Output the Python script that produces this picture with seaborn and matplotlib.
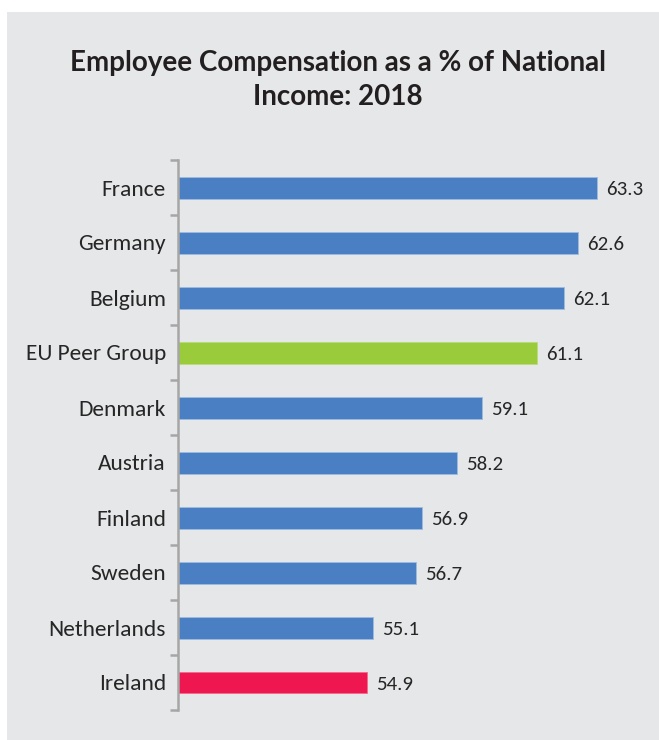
import matplotlib
matplotlib.use("Agg")
import matplotlib.pyplot as plt
import seaborn as sns
import pandas as pd
import numpy as np
from matplotlib.patches import Rectangle

countries = ["France", "Germany", "Belgium", "EU Peer Group", "Denmark",
             "Austria", "Finland", "Sweden", "Netherlands", "Ireland"]
values = [63.3, 62.6, 62.1, 61.1, 59.1, 58.2, 56.9, 56.7, 55.1, 54.9]
title = "Employee Compensation as a % of National\nIncome: 2018"

BLUE = "#4a80c3"
GREEN = "#9acb3a"
RED = "#ee174f"
BG = "#e6e7e9"
palette = {c: BLUE for c in countries}
palette["EU Peer Group"] = GREEN
palette["Ireland"] = RED

df = pd.DataFrame({"country": countries, "value": values})

sns.set_theme(style="white")
plt.rcParams["font.family"] = ["Carlito", "Lato", "DejaVu Sans"]

W, H = 659, 740
fig = plt.figure(figsize=(W / 100, H / 100), dpi=100, facecolor="white")
bg = Rectangle((7 / W, 0), 1 - 7 / W, 1 - 12 / H,
               transform=fig.transFigure, facecolor=BG,
               edgecolor="none", zorder=-10)
fig.add_artist(bg)

ax = fig.add_axes([178 / W, 1 - 710 / H, (650 - 178) / W, (710 - 160) / H])
ax.set_facecolor("none")
ax.set_zorder(1)

sns.barplot(data=df, y="country", x="value", hue="country", palette=palette,
            order=countries, hue_order=countries, legend=False, width=0.4,
            ax=ax, edgecolor="#9dbbe0", linewidth=0.6, saturation=1)
for p, c in zip(ax.patches, countries):
    if c == "EU Peer Group":
        p.set_edgecolor("#b8dc7a")
    elif c == "Ireland":
        p.set_edgecolor("#f36a8c")

ax.set_xlim(48, 48 + (650 - 178) / 27.4)
ax.set_ylim(len(countries) - 0.5, -0.5)
ax.set_xlabel("")
ax.set_ylabel("")
ax.set_xticks([])

for i, v in enumerate(values):
    ax.text(v + 0.33, i + 0.04, f"{v:.1f}", va="center", ha="left",
            fontsize=15, color="#262626")

ax.set_yticks(np.arange(-0.5, len(countries), 1.0), minor=True)
ax.tick_params(axis="y", which="major", left=False, length=0, pad=16,
               labelsize=16.8, labelcolor="#262626")
ax.tick_params(axis="y", which="minor", left=True, length=6, width=1.8,
               color="#a6a6a6", direction="out")
for lbl in ax.get_yticklabels():
    pass
ax.tick_params(axis="y", which="major", pad=16)

for s in ["top", "right", "bottom"]:
    ax.spines[s].set_visible(False)
ax.spines["left"].set_color("#a6a6a6")
ax.spines["left"].set_linewidth(1.8)

# major ticks have length 0, so pad is measured from spine; shift to match reference
ax.tick_params(axis="y", which="major", pad=16 - 7 * 0.75 * 100 / 72 / 1.0)

fig.text(0.513, 1 - 80 / H, title, ha="center", va="center",
         fontsize=20, fontweight="bold", color="#231f20",
         family=["Lato", "DejaVu Sans"], linespacing=1.35)

fig.savefig("out.png", dpi=100, facecolor="white")
